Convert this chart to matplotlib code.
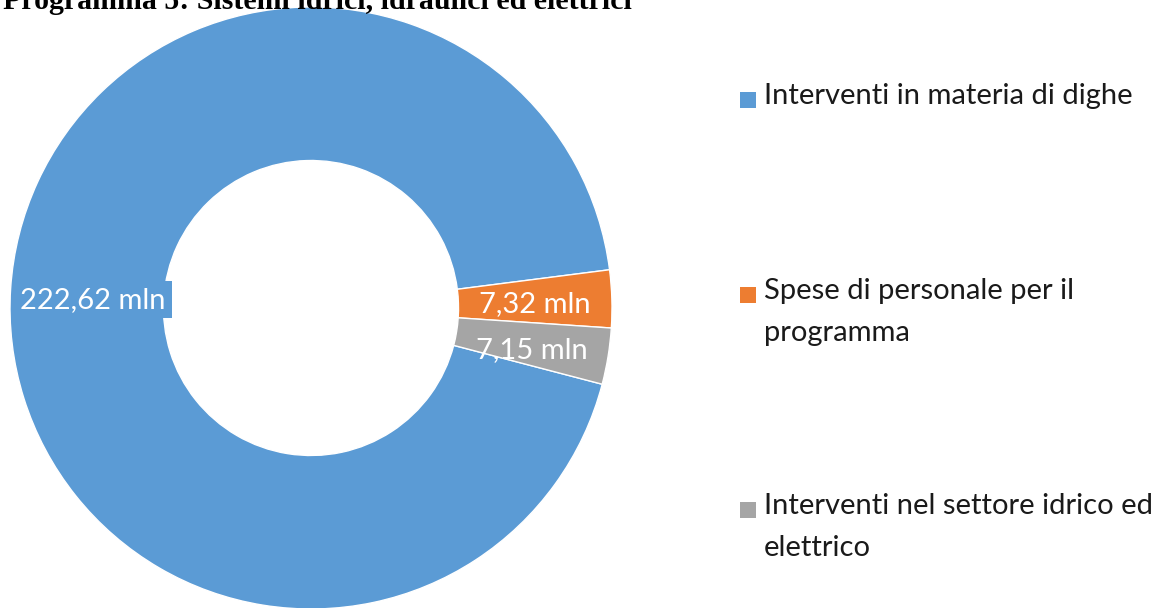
import numpy as np
import matplotlib.pyplot as plt
from matplotlib.patches import Rectangle

# Data (million euro)
categories = [
    "Interventi in materia di dighe",
    "Spese di personale per il\nprogramma",
    "Interventi nel settore idrico ed\nelettrico",
]
values = [222.62, 7.32, 7.15]
value_labels = ["222,62 mln", "7,32 mln", "7,15 mln"]
colors = ["#5B9BD5", "#ED7D31", "#A5A5A5"]

title = "Programma 5: Sistemi idrici, idraulici ed elettrici"

W, H = 1163, 608
fig = plt.figure(figsize=(W / 100, H / 100), dpi=100)
fig.patch.set_facecolor("white")

# donut geometry in pixels
cx, cy, r = 311, 308, 301
ax = fig.add_axes([(cx - r) / W, (H - cy - r) / H, 2 * r / W, 2 * r / H])

total = sum(values)
blue_span = values[0] / total * 360
start = 7.3 + blue_span  # orange begins just above 3 o'clock

hole = 0.49
wedges, _ = ax.pie(values, colors=colors, startangle=start, counterclock=False,
                   radius=1.0, wedgeprops=dict(width=1 - hole, edgecolor="white", linewidth=1))
ax.set_xlim(-1, 1)
ax.set_ylim(-1, 1)
ax.set_aspect("auto")
ax.axis("off")

font = "Lato"
mid_r = (1 + hole) / 2
offsets = [(0.02, -0.02), (0.0, -0.01), (0.0, -0.02)]
for i, w in enumerate(wedges):
    ang = np.deg2rad((w.theta1 + w.theta2) / 2)
    x = mid_r * np.cos(ang) + offsets[i][0]
    y = mid_r * np.sin(ang) + offsets[i][1]
    kw = {}
    if i == 0:
        kw["bbox"] = dict(boxstyle="square,pad=0.2", facecolor=colors[0], edgecolor="none")
    ax.text(x, y, value_labels[i], ha="center", va="center", color="white",
            fontsize=21, family=font, **kw)

# title, partially cut off at the top like the original
fig.text(3 / W, 1 - 9 / H, title, ha="left", va="baseline", fontsize=21.5,
         family="Liberation Serif", fontweight="bold")

# legend drawn by hand so markers sit on the first line
entry_y = [100, 295, 510]
for cat, col, yy in zip(categories, colors, entry_y):
    fig.patches.append(Rectangle((740 / W, 1 - (yy + 8) / H), 16 / W, 16 / H,
                                 transform=fig.transFigure, facecolor=col, edgecolor="none"))
    fig.text(764 / W, 1 - (yy - 17) / H, cat, ha="left", va="top", fontsize=21,
             family=font, color="#1a1a1a", linespacing=1.78)

fig.savefig("out.png", dpi=100)
